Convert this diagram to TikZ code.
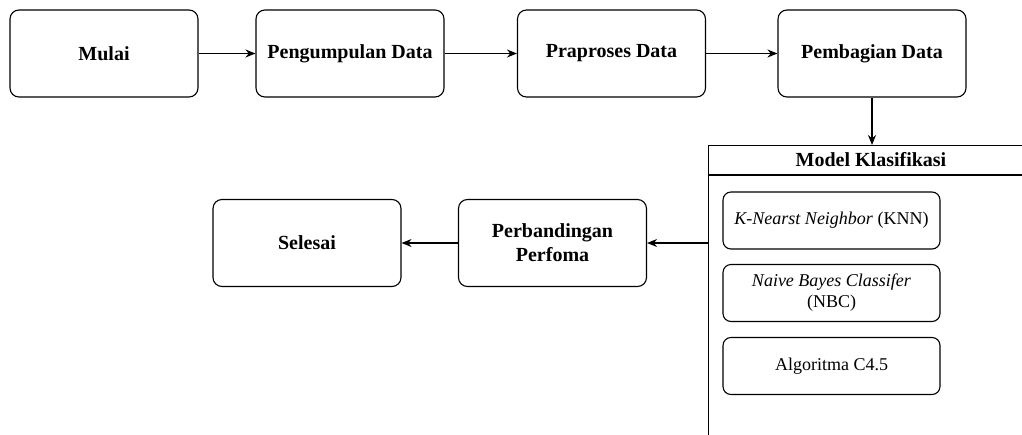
\documentclass[tikz,border=0pt]{standalone}
\usepackage{fontspec}
\setmainfont{Liberation Serif}
\usetikzlibrary{arrows.meta,positioning}

\begin{document}
\begin{tikzpicture}[x=1pt,y=-1pt,
    proses/.style={draw,rounded corners=9pt,line width=1.1pt,minimum width=188pt,minimum height=87pt,align=center,font=\fontsize{20}{24}\selectfont\bfseries},
    metode/.style={draw,rounded corners=8pt,line width=1.1pt,minimum width=217pt,minimum height=57pt,align=center,font=\fontsize{18}{21}\selectfont},
    panah/.style={-{Stealth[length=10pt,width=8pt]},line width=1.1pt}]
    \useasboundingbox (0,0) rectangle (1022,434);
    \clip (0,0) rectangle (1022,434);
    \begin{scope} % Alur atas
        \node[proses] (mulai) at (104,53.5) {Mulai};
        \node[proses] (kumpul) at (350,53.5) {Pengumpulan Data};
        \node[proses] (praproses) at (611.5,53.5) {Praproses Data};
        \node[proses] (bagi) at (872,53.5) {Pembagian Data};
    \end{scope}
    \begin{scope} % Kotak model klasifikasi
        \node[draw,line width=1.3pt,anchor=north west,minimum width=326pt,minimum height=320pt] (model) at (708,145) {};
        \draw[line width=1.1pt] (708,175) -- (1040,175);
        \node[font=\fontsize{20}{24}\selectfont\bfseries] (judul) at (871,160) {Model Klasifikasi};
        \node[metode] (knn) at (831.5,220.5) {\textit{K-Nearst Neighbor} (KNN)};
        \node[metode] (nbc) at (831.5,293) {\textit{Naive Bayes Classifer}\\(NBC)};
        \node[metode] (c45) at (831.5,366) {Algoritma C4.5};
    \end{scope}
    \begin{scope} % Alur bawah
        \node[proses] (banding) at (552.5,243) {Perbandingan\\Perfoma};
        \node[proses] (selesai) at (307,243) {Selesai};
    \end{scope}

% Panah antar tahap
\draw[panah] (mulai) -- (kumpul);
\draw[panah] (kumpul) -- (praproses);
\draw[panah] (praproses) -- (bagi);
\draw[panah] (bagi) -- (bagi |- model.north);
\draw[panah] (model.west |- banding.east) -- (banding);
\draw[panah] (banding) -- (selesai);

\end{tikzpicture}
\end{document}
